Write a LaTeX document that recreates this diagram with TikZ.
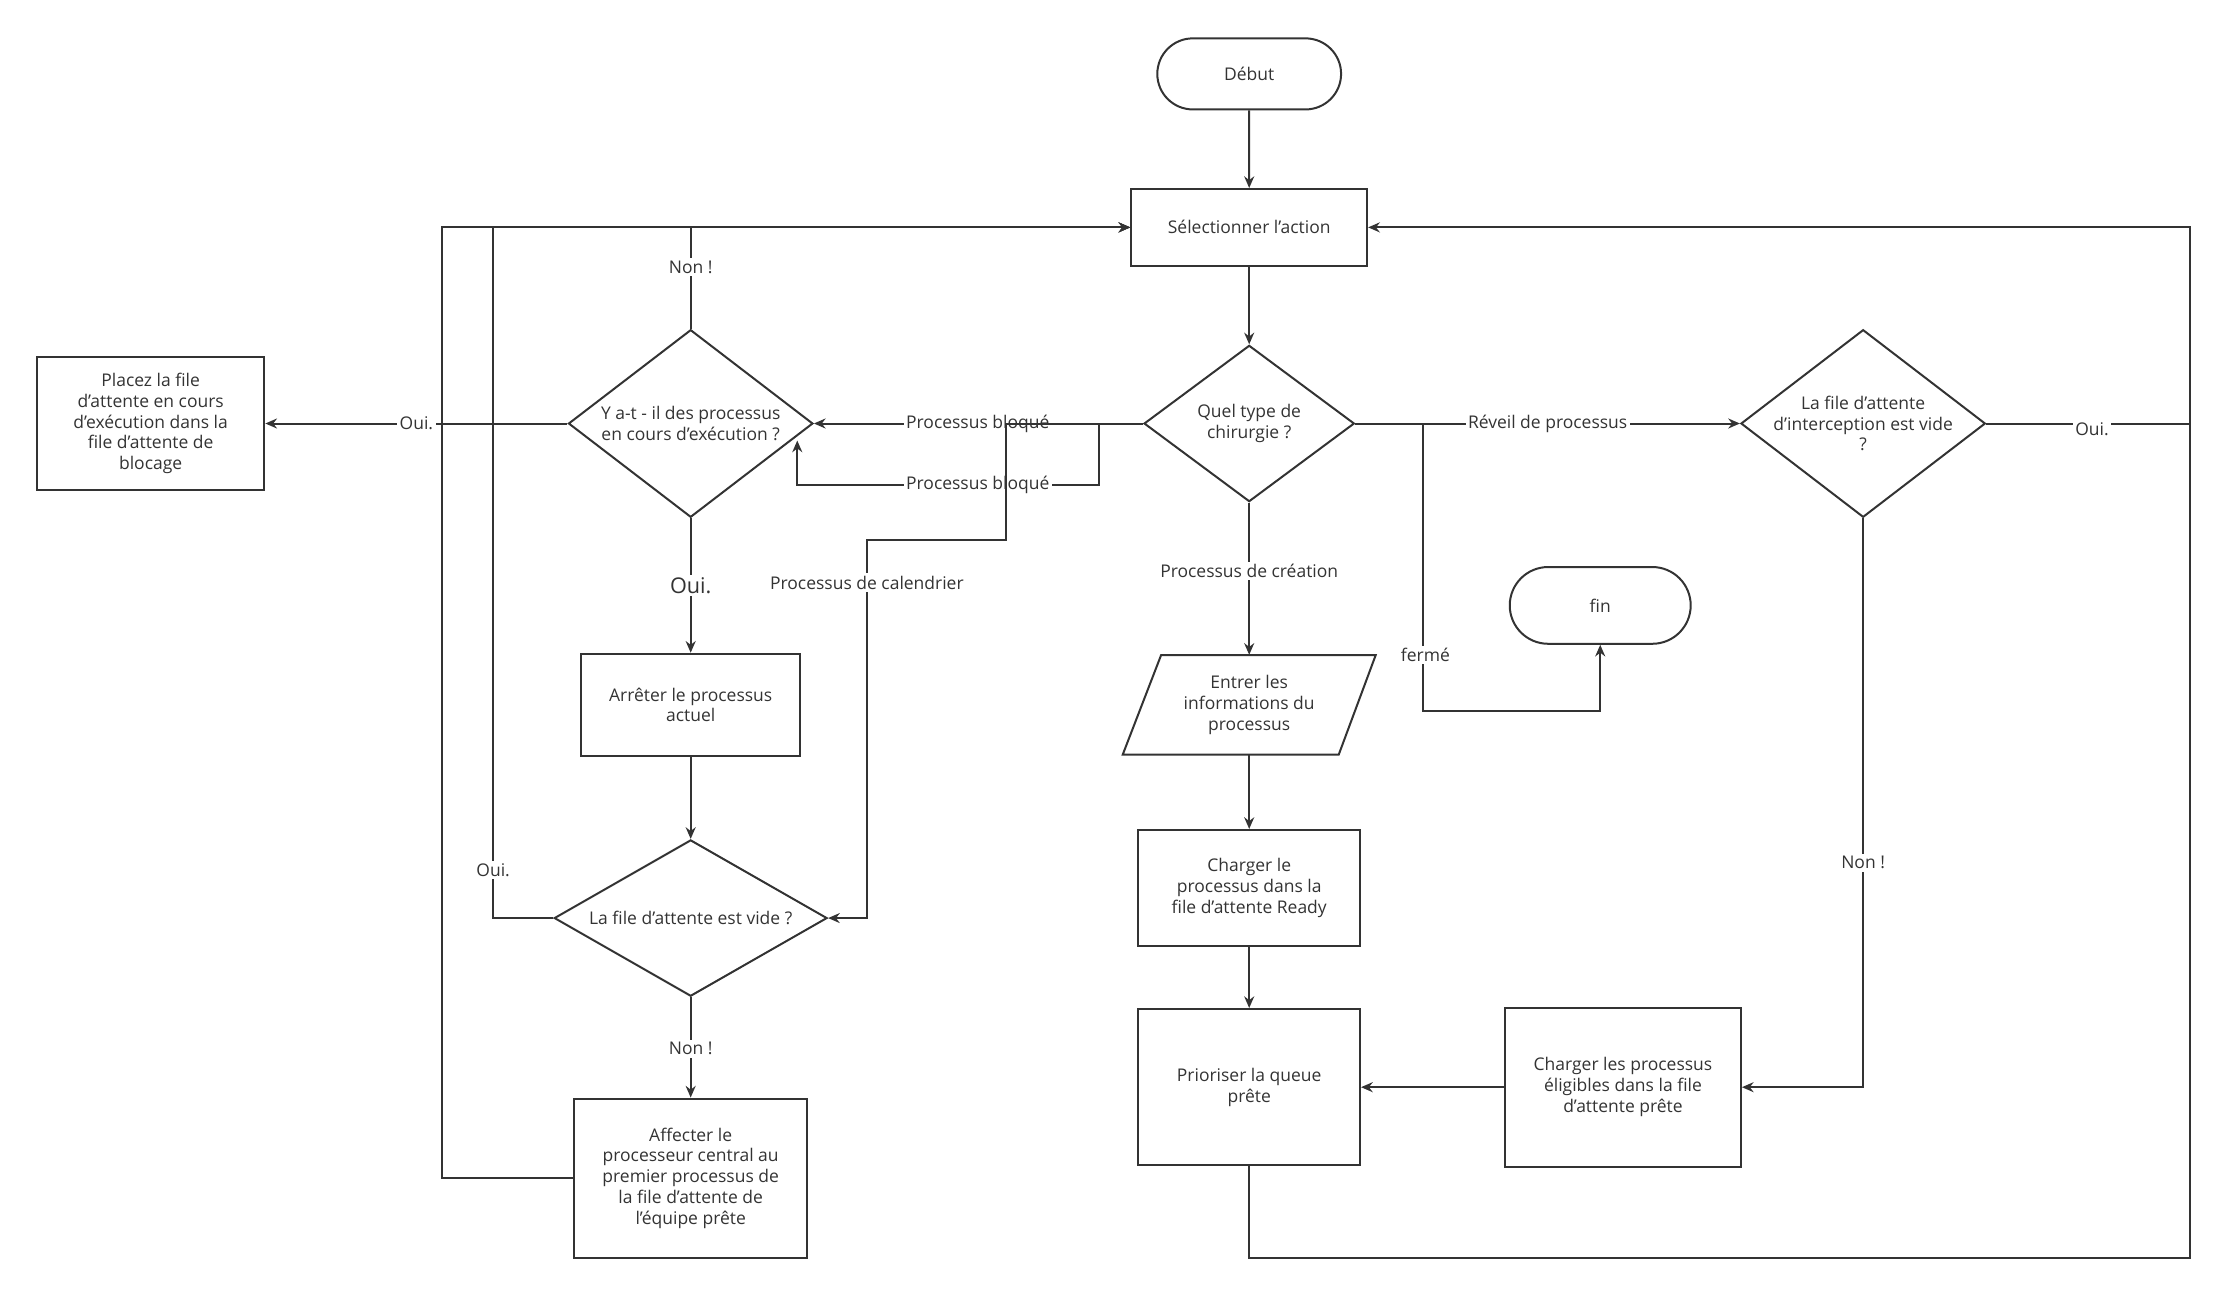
\documentclass[tikz,border=0pt]{standalone}
\usepackage{fontspec}
\setmainfont{Open Sans}
\usetikzlibrary{shapes.geometric,arrows.meta}
\definecolor{ln}{HTML}{333333}
\begin{document}
\begin{tikzpicture}[x=0.03cm,y=-0.03cm,
  every node/.style={font=\fontsize{10.5}{12.5}\selectfont, text=ln, align=center},
  box/.style={draw=ln, line width=1.2pt, rectangle, inner sep=2pt},
  term/.style={draw=ln, line width=1.2pt, rounded rectangle, inner sep=2pt},
  dia/.style={draw=ln, line width=1.2pt, diamond, inner sep=0pt},
  conn/.style={draw=ln, line width=1.2pt, -{Stealth[length=7pt,width=6pt]}},
  plain/.style={draw=ln, line width=1.2pt},
  lbl/.style={fill=white, inner sep=1.5pt}]
\useasboundingbox (0,0) rectangle (1560,907);
\usetikzlibrary{shapes.misc}
\node[term, minimum width=4.02cm, minimum height=1.5cm] (debut) at (879,52) {Début};
\node[box, minimum width=4.98cm, minimum height=1.62cm] (sel) at (879,160) {Sélectionner l'action};
\node[dia, minimum width=4.44cm, minimum height=3.3cm] (quel) at (879,298) {};
\node at (quel) {Quel type de\\chirurgie ?};
\node[dia, minimum width=5.16cm, minimum height=3.96cm] (yat) at (486,298) {};
\node at (yat) {Y a-t - il des processus\\en cours d'exécution ?};
\node[box, minimum width=4.8cm, minimum height=2.82cm] (placez) at (106,298) {Placez la file\\d'attente en cours\\d'exécution dans la\\file d'attente de\\blocage};
\node[box, minimum width=4.62cm, minimum height=2.16cm] (arreter) at (486,496) {Arrêter le processus\\actuel};
\node[dia, minimum width=5.76cm, minimum height=3.3cm] (vide) at (486,646) {};
\node at (vide) {La file d'attente est vide ?};
\node[box, minimum width=4.92cm, minimum height=3.36cm] (aff) at (486,829) {Affecter le\\processeur central au\\premier processus de\\la file d'attente de\\l'équipe prête};
\node[minimum width=4.2cm, minimum height=2.1cm] (entrer) at (879,496) {Entrer les\\informations du\\processus};
\draw[plain] (817,461) -- (968,461) -- (942,531) -- (790,531) -- cycle;
\node[box, minimum width=4.68cm, minimum height=2.46cm] (chle) at (879,625) {Charger le\\processus dans la\\file d'attente Ready};
\node[box, minimum width=4.68cm, minimum height=3.3cm] (prio) at (879,765) {Prioriser la queue\\prête};
\node[box, minimum width=4.98cm, minimum height=3.36cm] (chles) at (1142,765) {Charger les processus\\éligibles dans la file\\d'attente prête};
\node[term, minimum width=3.96cm, minimum height=1.62cm] (fin) at (1126,426) {fin};
\node[dia, minimum width=5.16cm, minimum height=3.96cm] (inter) at (1311,298) {};
\node at (inter) {La file d'attente\\d'interception est vide\\?};

\draw[conn] (debut) -- (sel);
\draw[conn] (sel) -- (quel);
\draw[conn] (quel.west) -- (yat.east);
\draw[conn] (quel.west) -- (773,298) -- (773,341) -- (561,341) -- (561,310);
\node[lbl] at (688,298) {Processus bloqué};
\node[lbl] at (688,341) {Processus bloqué};
\draw[conn] (quel.west) -- (708,298) -- (708,380) -- (610,380) -- (610,646) -- (vide.east);
\node[lbl] at (610,410) {Processus de calendrier};
\draw[conn] (quel.south) -- (entrer.north) node[lbl,pos=0.45] {Processus de création};
\draw[conn] (quel.east) -- (1001,298) -- (1001,500) -- (1126,500) -- (fin.south);
\node[lbl] at (1003,461) {fermé};
\draw[conn] (quel.east) -- (inter.west) node[lbl,midway] {Réveil de processus};
\draw[conn] (inter.east) -- (1541,298) -- (1541,160) -- (sel.east);
\node[lbl] at (1472,302) {Oui.};
\draw[conn] (inter.south) -- (1311,765) -- (chles.east);
\node[lbl] at (1311,607) {Non !};
\draw[conn] (chles.west) -- (prio.east);
\draw[conn] (entrer.south) -- (chle.north);
\draw[conn] (chle) -- (prio);
\draw[plain] (prio.south) -- (879,885) -- (1541,885) -- (1541,298);
\draw[conn] (yat.north) -- (486,160) -- (sel.west);
\node[lbl] at (486,188) {Non !};
\draw[conn] (yat.west) -- (placez.east) node[lbl,midway] {Oui.};
\draw[conn] (yat.south) -- (arreter.north);
\node[lbl, font=\fontsize{13}{15}\selectfont] at (486,412) {Oui.};
\draw[conn] (arreter) -- (vide);
\draw[conn] (vide.west) -- (347,646) -- (347,160) -- (sel.west);
\node[lbl] at (347,612) {Oui.};
\draw[conn] (vide.south) -- (aff.north);
\node[lbl] at (486,738) {Non !};
\draw[conn] (aff.west) -- (311,829) -- (311,160) -- (sel.west);
\end{tikzpicture}
\end{document}
